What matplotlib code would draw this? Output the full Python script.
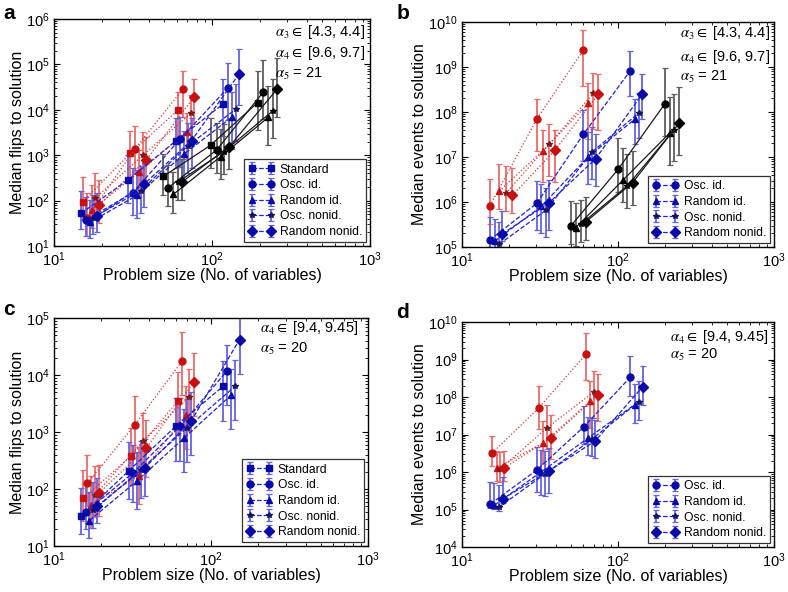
import matplotlib
matplotlib.use("Agg")
import matplotlib.pyplot as plt
import numpy as np

plt.rcParams['font.family'] = ['Liberation Sans', 'DejaVu Sans']
plt.rcParams['mathtext.fontset'] = 'stix'

names5 = ["Standard", "Osc. id.", "Random id.", "Osc. nonid.", "Random nonid."]
names4 = names5[1:]

# panel a: median flips (alpha3, alpha4, alpha5 set)
a_red_x = [[15.2, 30.5, 61.2], [16.2, 32.6, 65.3], [17.3, 34.5, 69.2], [18.2, 36.6, 73.3], [19.3, 38.4, 76.9]]
a_red_y = [[95, 1100, 10000], [41, 1400, 28000], [62, 420, 3300], [112, 1000, 8300], [80, 790, 19000]]
a_blue_x = [[14.8, 29.4, 58.9, 117.5], [15.9, 31.6, 62.7, 125.6], [16.8, 33.5, 66.8, 133], [17.6, 35.3, 70.2, 141], [18.8, 37.3, 74.3, 149]]
a_blue_y = [[52, 285, 2050, 13400], [37, 150, 2240, 30000], [33, 130, 1070, 6800], [42, 165, 1600, 10200], [46, 233, 2100, 63000]]
a_black_x = [[49.2, 98, 194.5], [52.8, 107, 211], [56.9, 113.5, 227], [61.2, 119, 242], [64.9, 129, 257]]
a_black_y = [[340, 1660, 14400], [192, 1300, 24500], [137, 930, 6800], [260, 1200, 9400], [260, 1550, 28000]]

# panel b: median events
b_red_x = [[15.1, 30.1, 60], [17.3, 33, 64.6], [19.1, 36.1, 69.5], [21, 39.3, 74.8]]
b_red_y = [[8.3e5, 6.9e7, 2.4e9], [1.75e6, 1.38e7, 1.55e8], [1.55e6, 1.9e7, 2.6e8], [1.4e6, 1.4e7, 2.5e8]]
b_blue_x = [[15.1, 30.1, 60, 119], [16.2, 32.2, 64.6, 128], [17.3, 34.4, 68.4, 136], [18.1, 36.1, 71.9, 143]]
b_blue_y = [[1.44e5, 9.3e5, 3.2e7, 8e8], [1.35e5, 8e5, 1.02e7, 6.9e7], [1.15e5, 6.5e5, 1.3e7, 9.6e7], [1.95e5, 9.6e5, 9.2e6, 2.5e8]]
b_black_x = [[49.7, 100, 199], [53.6, 108, 214], [57.7, 115, 228], [62.1, 124, 246]]
b_black_y = [[2.9e5, 5.3e6, 1.5e8], [2.7e5, 3.1e6, 3.4e7], [3.2e5, 2.3e6, 4e7], [3.6e5, 2.7e6, 5.6e7]]

# panel c: median flips (alpha4, alpha5 set)
c_red_x = [[15.4, 30.8, 61.9], [16.3, 32.8, 65.6], [17.3, 34.8, 69.2], [18.3, 36.9, 72.4], [19.4, 38.7, 78]]
c_red_y = [[69, 375, 3550], [126, 1350, 17800], [53, 170, 2000], [80, 690, 4100], [85, 520, 7600]]
c_blue_x = [[14.8, 30, 59.6, 119], [15.9, 31.8, 63.5, 127], [16.8, 33.9, 67.4, 135], [17.8, 35.7, 70.7, 143], [18.8, 37.8, 75, 152]]
c_blue_y = [[33, 210, 1260, 6300], [40, 190, 1260, 12000], [28, 140, 790, 4500], [42, 220, 1200, 6400], [50, 235, 1580, 42000]]

# panel d: median events
d_red_x = [[15.6, 31, 62.4], [16.7, 33, 66.4], [17.6, 35, 70.4], [18.7, 37.2, 74.4]]
d_red_y = [[3.2e6, 5.1e7, 1.4e9], [1.3e6, 5.9e6, 7.7e7], [1.2e6, 1.5e7, 1.4e8], [1.3e6, 8.1e6, 1.15e8]]
d_blue_x = [[15.2, 30.3, 60.3, 120], [16.1, 32.1, 64.3, 128], [17.2, 34.2, 68.1, 136], [18.2, 36.1, 71.6, 144]]
d_blue_y = [[1.4e5, 1.15e6, 1.6e7, 3.4e8], [1.3e5, 1.0e6, 8.1e6, 6.3e7], [1.15e5, 9e5, 7.6e6, 7.5e7], [1.9e5, 1.07e6, 6.8e6, 1.9e8]]

# error bar extent in decades (up, down) per cluster
a_red_err = ([0.55, 0.5, 0.4], [0.4, 0.55, 0.6])
a_blue_err = ([0.5, 0.55, 0.5, 0.55], [0.35, 0.5, 0.6, 0.7])
a_black_err = ([0.5, 0.6, 0.7], [0.4, 0.5, 0.6])
b_red_err = ([0.6, 0.45, 0.45], [0.4, 0.7, 0.8])
b_blue_err = ([0.5, 0.5, 0.55, 0.45], [0.15, 0.6, 0.6, 0.55])
b_black_err = ([0.55, 0.7, 0.8], [0.4, 0.5, 0.7])
c_red_err = ([0.5, 0.5, 0.5], [0.4, 0.5, 0.6])
c_blue_err = ([0.5, 0.5, 0.5, 0.45], [0.3, 0.5, 0.6, 0.6])
d_red_err = ([0.45, 0.6, 0.55], [0.35, 0.55, 0.7])
d_blue_err = ([0.6, 0.6, 0.55, 0.55], [0.1, 0.6, 0.45, 0.5])

markers5 = ['s', 'o', '^', '*', 'D']
sizes5 = [5, 5, 4.5, 4, 5]

styles = {
    'red': dict(ls=':', line='#e03030', bar='#ec6a6a', mk='#c81010', mk_dark='#7a1a1a'),
    'blue': dict(ls='--', line='#2020d8', bar='#6262e8', mk='#0a0aa8', mk_dark='#151560'),
    'black': dict(ls='-', line='#1a1a1a', bar='#5e5e5e', mk='#000000', mk_dark='#000000'),
}


def draw_group(ax, xs, ys, err, color):
    st = styles[color]
    offset = 5 - len(xs)
    handles = []
    for i in range(len(xs)):
        x = np.array(xs[i], dtype=float)
        y = np.array(ys[i], dtype=float)
        up = np.array(err[0][:len(x)])
        dn = np.array(err[1][:len(x)])
        lo = y - y / 10**dn
        hi = y * 10**up - y
        k = i + offset
        mk = st['mk_dark'] if k == 3 else st['mk']
        h = ax.errorbar(x, y, yerr=[lo, hi], fmt=markers5[k], ls=st['ls'], color=st['line'],
                        ecolor=st['bar'], elinewidth=1.3, capsize=2, capthick=0.9, lw=0.9,
                        mfc=mk, mec=mk, ms=sizes5[k])
        handles.append(h)
    return handles


def style_axes(ax, ylo, yhi, ylabel):
    ax.set_xscale('log')
    ax.set_yscale('log')
    ax.set_xlim(10, 1000)
    ax.set_ylim(ylo, yhi)
    ax.tick_params(which='both', direction='in', top=True, right=True, labelsize=10.5)
    ax.tick_params(which='major', length=4)
    ax.tick_params(axis='x', which='major', pad=3.5)
    ax.tick_params(axis='y', which='major', pad=3)
    ax.tick_params(which='minor', length=2)
    ax.yaxis.set_minor_locator(matplotlib.ticker.LogLocator(base=10, subs=np.arange(2, 10), numticks=20))
    ax.yaxis.set_minor_formatter(matplotlib.ticker.NullFormatter())
    ax.yaxis.set_major_locator(matplotlib.ticker.LogLocator(base=10, numticks=20))
    ax.set_xlabel("Problem size (No. of variables)", fontsize=11.5, labelpad=-1)
    ax.set_ylabel(ylabel, fontsize=11.5, labelpad=1)
    for s in ax.spines.values():
        s.set_linewidth(1.0)


def add_legend(ax, handles, labels):
    leg = ax.legend(handles, labels, loc='lower right', fontsize=8.7, numpoints=2,
                    handlelength=2.2, handletextpad=0.4, borderpad=0.35, labelspacing=0.3,
                    fancybox=False, edgecolor='#333333', framealpha=1, borderaxespad=0.3)
    leg.get_frame().set_linewidth(0.9)


fig = plt.figure(figsize=(7.88, 5.92), dpi=100)
ax_a = fig.add_axes([0.0685, 0.5845, 0.401, 0.3834])
ax_b = fig.add_axes([0.5863, 0.5828, 0.396, 0.380])
ax_c = fig.add_axes([0.0685, 0.0777, 0.3985, 0.385])
ax_d = fig.add_axes([0.5863, 0.0760, 0.396, 0.380])

# panel a
draw_group(ax_a, a_red_x, a_red_y, a_red_err, 'red')
h = draw_group(ax_a, a_blue_x, a_blue_y, a_blue_err, 'blue')
draw_group(ax_a, a_black_x, a_black_y, a_black_err, 'black')
style_axes(ax_a, 10, 1e6, "Median flips to solution")
add_legend(ax_a, h, names5)

# panel b
draw_group(ax_b, b_red_x, b_red_y, b_red_err, 'red')
h = draw_group(ax_b, b_blue_x, b_blue_y, b_blue_err, 'blue')
draw_group(ax_b, b_black_x, b_black_y, b_black_err, 'black')
style_axes(ax_b, 1e5, 1e10, "Median events to solution")
add_legend(ax_b, h, names4)

# panel c
draw_group(ax_c, c_red_x, c_red_y, c_red_err, 'red')
h = draw_group(ax_c, c_blue_x, c_blue_y, c_blue_err, 'blue')
style_axes(ax_c, 10, 1e5, "Median flips to solution")
add_legend(ax_c, h, names5)

# panel d
draw_group(ax_d, d_red_x, d_red_y, d_red_err, 'red')
h = draw_group(ax_d, d_blue_x, d_blue_y, d_blue_err, 'blue')
style_axes(ax_d, 1e4, 1e10, "Median events to solution")
add_legend(ax_d, h, names4)

# parameter annotations
ann_ab = [r"$\alpha_3 \in$ [4.3, 4.4]", r"$\alpha_4 \in$ [9.6, 9.7]", r"$\alpha_5$ = 21"]
for ax, x0, ys in ((ax_a, 0.70, [0.943, 0.85, 0.758]), (ax_b, 0.70, [0.951, 0.844, 0.756])):
    for t, y in zip(ann_ab, ys):
        ax.text(x0, y, t, transform=ax.transAxes, ha='left', va='center', fontsize=10.5)

ann_cd = [r"$\alpha_4 \in$ [9.4, 9.45]", r"$\alpha_5$ = 20"]
for ax, x0, ys in ((ax_c, 0.655, [0.956, 0.864]), (ax_d, 0.665, [0.933, 0.853])):
    for t, y in zip(ann_cd, ys):
        ax.text(x0, y, t, transform=ax.transAxes, ha='left', va='center', fontsize=10.5)

# panel letters
for lab, (x, y) in zip("abcd", [(0.004, 0.978), (0.503, 0.978), (0.004, 0.478), (0.503, 0.472)]):
    fig.text(x, y, lab, fontsize=15, fontweight='bold', ha='left', va='center')

fig.savefig("out.png", dpi=100)
